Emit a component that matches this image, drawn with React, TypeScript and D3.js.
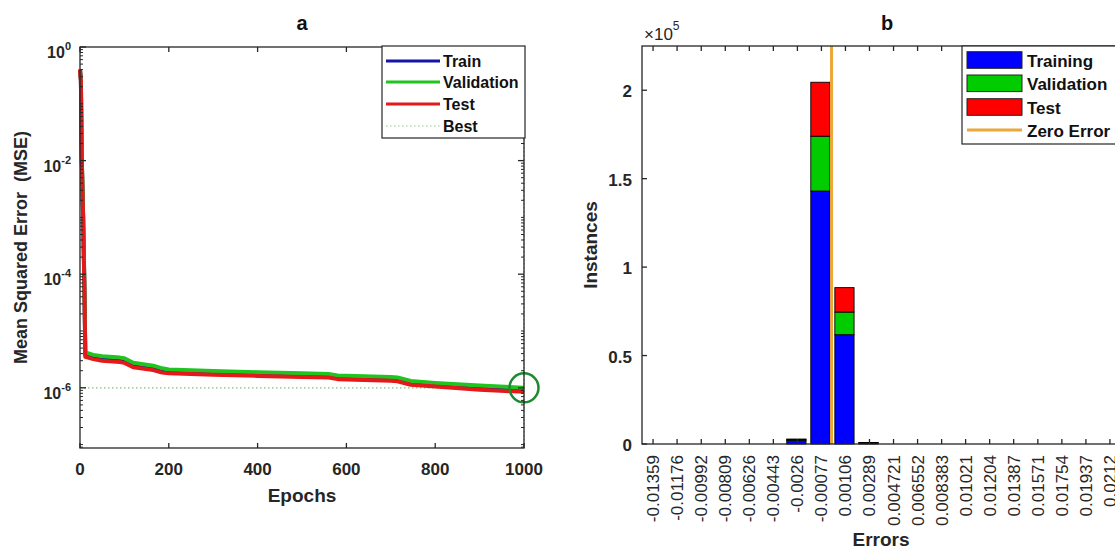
import React from "react";
import * as d3 from "d3";

// ---------- Panel a data ----------
const epochs = [0, 2, 4, 7, 10, 12, 30, 50, 90, 100, 120, 165, 185, 200, 300, 400, 500, 560, 580, 700, 715, 745, 800, 900, 1000];
const trainMSE = [0.4, 0.26, 0.011, 1.1e-3, 5.5e-5, 3.8e-6, 3.5e-6, 3.3e-6, 3.1e-6, 3.0e-6, 2.5e-6, 2.25e-6, 2.0e-6, 1.95e-6, 1.85e-6, 1.75e-6, 1.68e-6, 1.65e-6, 1.55e-6, 1.45e-6, 1.42e-6, 1.22e-6, 1.12e-6, 1.0e-6, 0.92e-6];
const validationMSE = [0.4, 0.27, 0.012, 1.2e-3, 6e-5, 4.2e-6, 3.8e-6, 3.6e-6, 3.4e-6, 3.3e-6, 2.75e-6, 2.45e-6, 2.2e-6, 2.1e-6, 1.98e-6, 1.88e-6, 1.8e-6, 1.75e-6, 1.65e-6, 1.55e-6, 1.52e-6, 1.32e-6, 1.22e-6, 1.1e-6, 1.0e-6];
const testMSE = [0.4, 0.25, 0.01, 1.0e-3, 5e-5, 3.5e-6, 3.2e-6, 3.0e-6, 2.85e-6, 2.75e-6, 2.3e-6, 2.05e-6, 1.85e-6, 1.8e-6, 1.7e-6, 1.62e-6, 1.55e-6, 1.52e-6, 1.42e-6, 1.33e-6, 1.3e-6, 1.13e-6, 1.05e-6, 0.92e-6, 0.85e-6];
const bestEpoch = 1000;
const bestMSE = 1e-6;
const epochTicks = [0, 200, 400, 600, 800, 1000];
const mseTickExps = [0, -2, -4, -6];
const legendA = ["Train", "Validation", "Test", "Best"];

// ---------- Panel b data ----------
const binLabels = ["-0.01359", "-0.01176", "-0.00992", "-0.00809", "-0.00626", "-0.00443", "-0.0026", "-0.00077", "0.00106", "0.00289", "0.004721", "0.006552", "0.008383", "0.01021", "0.01204", "0.01387", "0.01571", "0.01754", "0.01937", "0.0212"];
const trainingCounts = [0, 0, 0, 0, 0, 0, 2100, 143000, 61800, 550, 0, 0, 0, 0, 0, 0, 0, 0, 0, 0];
const validationCounts = [0, 0, 0, 0, 0, 0, 350, 31000, 12800, 150, 0, 0, 0, 0, 0, 0, 0, 0, 0, 0];
const testCounts = [0, 0, 0, 0, 0, 0, 350, 30500, 13800, 150, 0, 0, 0, 0, 0, 0, 0, 0, 0, 0];
const instanceTicks = [0, 50000, 100000, 150000, 200000];
const instanceTickLabels = ["0", "0.5", "1", "1.5", "2"];
const legendB = ["Training", "Validation", "Test", "Zero Error"];

const FONT = "'Liberation Sans', Arial, Helvetica, sans-serif";
const AX = "#262626";
const BLUE = "#1414a8";
const GREEN = "#1fc41f";
const RED = "#e41a1a";

function PanelA() {
  const L = 80, R = 524, T = 47, B = 448;
  const x = d3.scaleLinear().domain([0, 1000]).range([L, R]);
  const y = d3.scaleLog().domain([Math.pow(10, -7.06), 1]).range([B, T]);
  const mk = (vals: number[]) =>
    d3.line<number>().x((_, i) => x(epochs[i])).y((v) => y(v))(vals) || "";
  const minor: number[] = [];
  for (let e = -8; e <= 0; e++) {
    for (let k = 1; k <= 9; k++) {
      const v = k * Math.pow(10, e);
      if (v < y.domain()[0] || v > 1) continue;
      if (k === 1 && mseTickExps.includes(e)) continue;
      minor.push(v);
    }
  }
  const legendY = [61, 82, 104, 126];
  const legendColors = [BLUE, GREEN, RED, "#8fc88f"];
  return (
    <g fontFamily={FONT} fill={AX}>
      <text x={302} y={30} textAnchor="middle" fontSize={20} fontWeight="bold" fill="#111">a</text>
      {/* best lines */}
      <line x1={L} x2={R} y1={y(bestMSE)} y2={y(bestMSE)} stroke="#7fbf7f" strokeWidth={1.2} strokeDasharray="1.5 2.5" />
      <line x1={x(bestEpoch)} x2={x(bestEpoch)} y1={T} y2={B} stroke="#7fbf7f" strokeWidth={1.2} strokeDasharray="1.5 2.5" />
      <path d={mk(trainMSE)} fill="none" stroke={BLUE} strokeWidth={4} strokeLinejoin="round" />
      <path d={mk(validationMSE)} fill="none" stroke={GREEN} strokeWidth={4} strokeLinejoin="round" />
      <path d={mk(testMSE)} fill="none" stroke={RED} strokeWidth={4} strokeLinejoin="round" />
      <circle cx={x(bestEpoch)} cy={y(bestMSE)} r={14.5} fill="none" stroke="#1d8a2e" strokeWidth={2.5} />
      {/* axes box */}
      <rect x={L} y={T} width={R - L} height={B - T} fill="none" stroke={AX} strokeWidth={1.3} />
      {epochTicks.map((t) => (
        <g key={t}>
          <line x1={x(t)} x2={x(t)} y1={B} y2={B - 5} stroke={AX} strokeWidth={1.3} />
          <line x1={x(t)} x2={x(t)} y1={T} y2={T + 5} stroke={AX} strokeWidth={1.3} />
          <text x={x(t)} y={475} textAnchor="middle" fontSize={17} fontWeight="bold">{t}</text>
        </g>
      ))}
      {minor.map((v, i) => (
        <g key={i}>
          <line x1={L} x2={L + 3} y1={y(v)} y2={y(v)} stroke={AX} strokeWidth={1} />
          <line x1={R} x2={R - 3} y1={y(v)} y2={y(v)} stroke={AX} strokeWidth={1} />
        </g>
      ))}
      {mseTickExps.map((e) => {
        const ty = y(Math.pow(10, e));
        return (
          <g key={e}>
            <line x1={L} x2={L + 6} y1={ty} y2={ty} stroke={AX} strokeWidth={1.3} />
            <line x1={R} x2={R - 6} y1={ty} y2={ty} stroke={AX} strokeWidth={1.3} />
            <text x={71} y={ty + 11} textAnchor="end" fontWeight="bold">
              <tspan fontSize={16}>10</tspan>
              <tspan fontSize={11} dy={-8}>{String(e)}</tspan>
            </text>
          </g>
        );
      })}
      <text x={302} y={502} textAnchor="middle" fontSize={19} fontWeight="bold">Epochs</text>
      <text transform={`translate(27,${(T + B) / 2}) rotate(-90)`} textAnchor="middle" fontSize={18} fontWeight="bold">{"Mean Squared Error\u00a0\u00a0(MSE)"}</text>
      {/* legend */}
      <rect x={382} y={46} width={143} height={92} fill="#fff" stroke={AX} strokeWidth={1.2} />
      {legendA.map((name, i) => (
        <g key={name}>
          <line x1={386} x2={440} y1={legendY[i]} y2={legendY[i]} stroke={legendColors[i]}
            strokeWidth={i === 3 ? 1.2 : 3} strokeDasharray={i === 3 ? "1.5 2.5" : undefined} />
          <text x={443} y={legendY[i] + 6} fontSize={16} fontWeight="bold" fill="#111">{name}</text>
        </g>
      ))}
    </g>
  );
}

function PanelB() {
  const L = 642, R = 1121, T = 46, B = 444;
  const n = binLabels.length;
  const centers = binLabels.map((s) => +s);
  const bw = (centers[n - 1] - centers[0]) / (n - 1);
  const x = d3.scaleLinear().domain([centers[0] - 0.46 * bw, centers[n - 1] + 0.46 * bw]).range([L, R]);
  const y = d3.scaleLinear().domain([0, 225000]).range([B, T]);
  const barW = x(centers[0] + 0.8 * bw) - x(centers[0]);
  const series = [
    { name: "Training", vals: trainingCounts, color: "#0000ff" },
    { name: "Validation", vals: validationCounts, color: "#00cc00" },
    { name: "Test", vals: testCounts, color: "#ff0000" },
  ];
  const stacked = d3.stack<number>().keys(["0", "1", "2"]).value((i, k) => series[+k].vals[i])(d3.range(n));
  const legendY = [60, 83.3, 107, 130];
  return (
    <g fontFamily={FONT} fill={AX}>
      <text x={887} y={30} textAnchor="middle" fontSize={20} fontWeight="bold" fill="#111">b</text>
      {stacked.map((layer, si) =>
        layer.map((d, i) => {
          const h = y(d[0]) - y(d[1]);
          if (h <= 0) return null;
          return (
            <rect key={`${si}-${i}`} x={x(centers[i]) - barW / 2 - 1} y={y(d[1])} width={barW} height={h}
              fill={series[si].color} stroke="#000" strokeWidth={0.9} />
          );
        })
      )}
      <line x1={x(0)} x2={x(0)} y1={T} y2={B} stroke="#eca73a" strokeWidth={3} />
      <rect x={L} y={T} width={R - L} height={B - T} fill="none" stroke={AX} strokeWidth={1.3} />
      {centers.map((c, i) => (
        <g key={i}>
          <line x1={x(c)} x2={x(c)} y1={B} y2={B - 5} stroke={AX} strokeWidth={1.3} />
          <line x1={x(c)} x2={x(c)} y1={T} y2={T + 5} stroke={AX} strokeWidth={1.3} />
          <text transform={`translate(${x(c) + 6},455) rotate(-90)`} textAnchor="end" fontSize={17}>{binLabels[i]}</text>
        </g>
      ))}
      {instanceTicks.map((t, i) => (
        <g key={t}>
          <line x1={L} x2={L + 5} y1={y(t)} y2={y(t)} stroke={AX} strokeWidth={1.3} />
          <line x1={R} x2={R - 5} y1={y(t)} y2={y(t)} stroke="#888" strokeWidth={1.3} />
          <text x={632} y={y(t) + 7} textAnchor="end" fontSize={17} fontWeight="bold">{instanceTickLabels[i]}</text>
        </g>
      ))}
      <text x={644} y={40} fontSize={17}>
        <tspan>×10</tspan>
        <tspan fontSize={12} dy={-10}>5</tspan>
      </text>
      <text x={881} y={546} textAnchor="middle" fontSize={19} fontWeight="bold">Errors</text>
      <text transform={`translate(597,${(T + B) / 2}) rotate(-90)`} textAnchor="middle" fontSize={19} fontWeight="bold">Instances</text>
      {/* legend */}
      <rect x={962} y={46} width={170} height={98} fill="#fff" stroke={AX} strokeWidth={1.2} />
      {legendB.map((name, i) => (
        <g key={name}>
          {i < 3 ? (
            <rect x={967} y={legendY[i] - 8.3} width={55} height={16.6} fill={series[i].color} stroke="#222" strokeWidth={1} />
          ) : (
            <line x1={967} x2={1022} y1={legendY[i]} y2={legendY[i]} stroke="#eca73a" strokeWidth={3} />
          )}
          <text x={1027} y={legendY[i] + 6.5} fontSize={17} fontWeight="bold" fill="#111">{name}</text>
        </g>
      ))}
    </g>
  );
}

export default function App() {
  return (
    <svg width={1115} height={549} style={{ position: "absolute", left: 0, top: 0, background: "#fff" }}>
      <rect width={1115} height={549} fill="#fff" />
      <PanelA />
      <PanelB />
    </svg>
  );
}
